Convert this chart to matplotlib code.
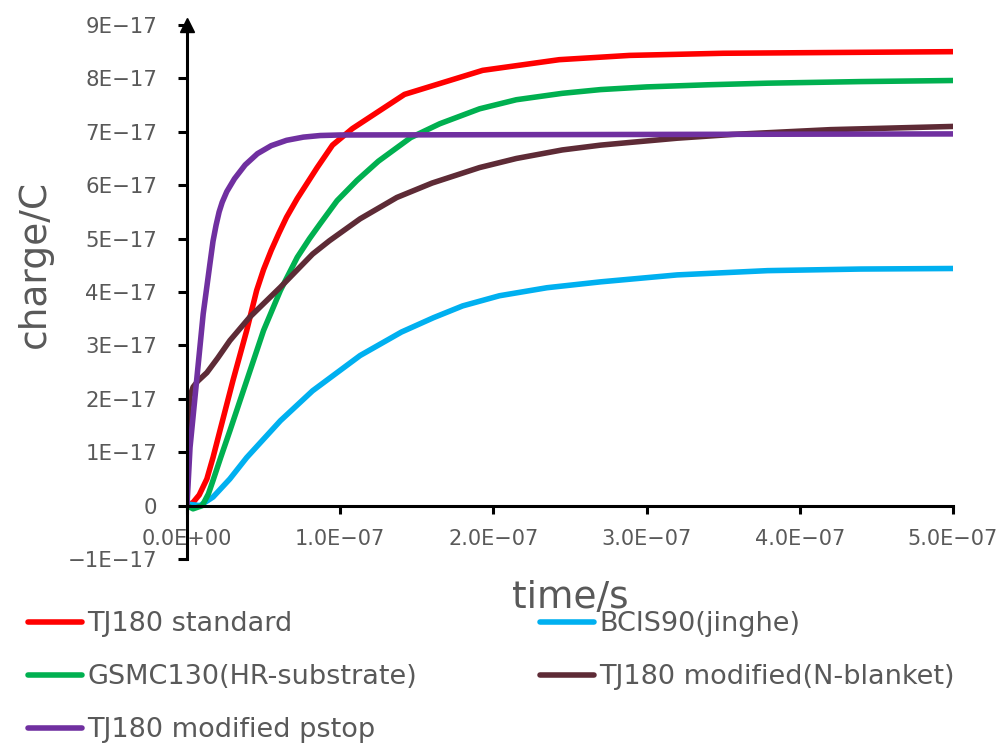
import numpy as np
import matplotlib
matplotlib.use("Agg")
import matplotlib.pyplot as plt

# time in units of 1e-7 s, charge in units of 1e-17 C
red_t = [0.0, 0.04, 0.08, 0.13, 0.17, 0.215, 0.30, 0.39, 0.455, 0.5, 0.55, 0.6, 0.65, 0.72, 0.85, 0.95, 1.08, 1.42, 1.93, 2.43, 2.89, 3.5, 4.0, 4.5, 5.0]
red_q = [0.0, 0.06, 0.20, 0.50, 0.90, 1.40, 2.34, 3.28, 4.03, 4.42, 4.78, 5.10, 5.40, 5.75, 6.33, 6.75, 7.06, 7.70, 8.15, 8.35, 8.43, 8.47, 8.48, 8.49, 8.50]

blue_t = [0.0, 0.085, 0.17, 0.28, 0.39, 0.61, 0.82, 1.13, 1.4, 1.61, 1.8, 2.04, 2.35, 2.70, 3.2, 3.79, 4.4, 5.0]
blue_q = [0.03, 0.0, 0.16, 0.50, 0.90, 1.59, 2.15, 2.81, 3.25, 3.52, 3.74, 3.93, 4.08, 4.19, 4.32, 4.40, 4.43, 4.44]

green_t = [0.0, 0.04, 0.10, 0.14, 0.17, 0.22, 0.28, 0.39, 0.50, 0.61, 0.72, 0.80, 0.87, 0.98, 1.11, 1.25, 1.46, 1.65, 1.91, 2.15, 2.45, 2.7, 3.0, 3.4, 3.79, 4.4, 5.0]
green_q = [0.0, -0.06, 0.0, 0.22, 0.47, 0.90, 1.40, 2.34, 3.28, 4.03, 4.65, 5.0, 5.28, 5.71, 6.09, 6.45, 6.89, 7.15, 7.43, 7.60, 7.72, 7.79, 7.84, 7.88, 7.91, 7.94, 7.96]

brown_t = [0.0, 0.01, 0.02, 0.04, 0.07, 0.13, 0.2, 0.28, 0.41, 0.61, 0.82, 0.93, 1.13, 1.37, 1.6, 1.91, 2.15, 2.45, 2.7, 2.89, 3.2, 3.56, 4.2, 5.0]
brown_q = [0.03, 1.72, 2.05, 2.22, 2.33, 2.49, 2.76, 3.09, 3.53, 4.09, 4.71, 4.96, 5.37, 5.77, 6.04, 6.33, 6.50, 6.66, 6.75, 6.80, 6.88, 6.95, 7.04, 7.10]

purple_t = [0.0, 0.02, 0.063, 0.106, 0.15, 0.17, 0.19, 0.21, 0.23, 0.26, 0.31, 0.38, 0.46, 0.55, 0.65, 0.76, 0.87, 1.0, 3.0, 5.0]
purple_q = [0.0, 1.09, 2.34, 3.59, 4.53, 4.95, 5.25, 5.50, 5.68, 5.88, 6.12, 6.38, 6.59, 6.74, 6.84, 6.90, 6.93, 6.94, 6.95, 6.96]

labels = ["TJ180 standard", "BCIS90(jinghe)", "GSMC130(HR-substrate)",
          "TJ180 modified(N-blanket)", "TJ180 modified pstop"]
colors = ["#FF0000", "#00B0F0", "#00B050", "#5E2B36", "#7030A0"]

y_ticks = [-1, 0, 1, 2, 3, 4, 5, 6, 7, 8, 9]
y_ticklabels = ["\u22121E\u221217", "0", "1E\u221217", "2E\u221217", "3E\u221217", "4E\u221217",
                "5E\u221217", "6E\u221217", "7E\u221217", "8E\u221217", "9E\u221217"]
x_ticks = [0, 1, 2, 3, 4, 5]
x_ticklabels = ["0.0E+00", "1.0E\u221207", "2.0E\u221207", "3.0E\u221207", "4.0E\u221207", "5.0E\u221207"]

TS, QS = 1e-7, 1e-17
grey = "#595959"

fig = plt.figure(figsize=(10.03, 7.43), dpi=100)
ax = fig.add_axes([0.1864, 0.2476, 0.7637, 0.7188])

series = [(red_t, red_q), (blue_t, blue_q), (green_t, green_q), (brown_t, brown_q), (purple_t, purple_q)]
lines = []
for (t, q), lab, c in zip(series, labels, colors):
    ln, = ax.plot(np.array(t) * TS, np.array(q) * QS, color=c, lw=4, label=lab,
                  solid_capstyle="round", solid_joinstyle="round")
    lines.append(ln)

ax.set_xlim(0, 5 * TS)
ax.set_ylim(-1 * QS, 9 * QS)

ax.spines["top"].set_visible(False)
ax.spines["right"].set_visible(False)
ax.spines["bottom"].set_position(("data", 0))
ax.spines["left"].set_linewidth(2.2)
ax.spines["bottom"].set_linewidth(2.2)

ax.set_yticks(np.array(y_ticks) * QS)
ax.set_yticklabels(y_ticklabels)
ax.set_xticks(np.array(x_ticks) * TS)
ax.set_xticklabels(x_ticklabels)
ax.tick_params(axis="y", direction="out", length=6.5, width=2.2, pad=15,
               labelsize=15.3, labelcolor=grey)
ax.tick_params(axis="x", direction="out", length=5.5, width=2.2, pad=11,
               labelsize=15, labelcolor=grey)

# arrow head on top of y axis
ax.plot(0, 1, marker="^", color="k", markersize=10, transform=ax.transAxes, clip_on=False)

ax.set_xlabel("time/s", fontsize=27, color=grey)
ax.xaxis.set_label_coords(0.5, -0.073)
ax.xaxis.label.set_va("center")
ax.set_ylabel("charge/C", fontsize=27, color=grey)
ax.yaxis.set_label_coords(-0.198, 0.552)
ax.yaxis.label.set_va("center")

leg_kw = dict(frameon=False, fontsize=19.5, labelcolor=grey, handlelength=2.0,
              handletextpad=0.2, borderpad=0, borderaxespad=0, labelspacing=1.0,
              loc="upper left")
fig.legend([lines[0], lines[2], lines[4]], [labels[0], labels[2], labels[4]],
           bbox_to_anchor=(28 / 1003, 1 - 611 / 743), **leg_kw)
fig.legend([lines[1], lines[3]], [labels[1], labels[3]],
           bbox_to_anchor=(540 / 1003, 1 - 611 / 743), **leg_kw)

fig.savefig("out.png", dpi=100)
